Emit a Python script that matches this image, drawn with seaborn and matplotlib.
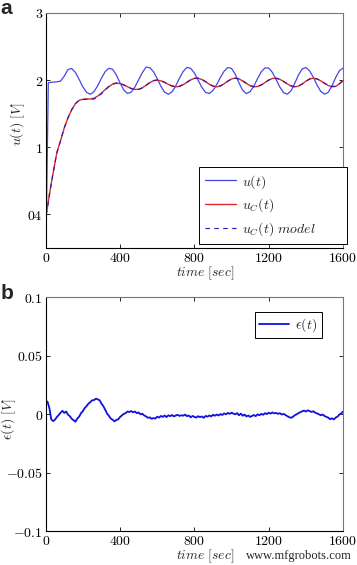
import matplotlib
matplotlib.use("Agg")
import matplotlib.pyplot as plt
import seaborn as sns

sns.set_theme(style="ticks", rc={
    "mathtext.fontset": "cm",
    "axes.linewidth": 0.8,
})
plt.rcParams["font.family"] = ["DejaVu Serif"]

# time samples [sec] for panel a
t_a = [0, 4, 14] + list(range(20, 1601, 20))

# u(t) [V]
u = [1.90, 0.00, 1.96, 1.965, 1.97, 1.975, 1.986, 2.06, 2.16, 2.173, 2.114, 2.011,
     1.899, 1.817, 1.790, 1.829, 1.918, 2.030, 2.127, 2.177, 2.161, 2.078, 1.960,
     1.854, 1.802, 1.821, 1.898, 2.006, 2.111, 2.195, 2.185, 2.126, 2.022, 1.907,
     1.820, 1.790, 1.826, 1.916, 2.030, 2.131, 2.190, 2.176, 2.107, 2.001, 1.893,
     1.818, 1.802, 1.845, 1.934, 2.041, 2.134, 2.188, 2.174, 2.087, 1.959, 1.847,
     1.800, 1.829, 1.913, 2.023, 2.125, 2.183, 2.180, 2.114, 2.007, 1.895, 1.814,
     1.791, 1.842, 1.952, 2.077, 2.167, 2.188, 2.139, 2.042, 1.927, 1.833, 1.791,
     1.819, 1.914, 2.038, 2.141, 2.180]

# u_C(t) [V] measured
uc = [0.00, 0.02, 0.19, 0.30, 0.62, 0.92, 1.10, 1.29, 1.44, 1.56, 1.65, 1.70,
      1.715, 1.72, 1.72, 1.731, 1.763, 1.808, 1.859, 1.906, 1.940, 1.955, 1.949,
      1.929, 1.902, 1.877, 1.862, 1.864, 1.886, 1.923, 1.962, 1.991, 2.000, 1.990,
      1.966, 1.937, 1.912, 1.900, 1.907, 1.933, 1.969, 2.004, 2.026, 2.028, 2.010,
      1.976, 1.939, 1.911, 1.900, 1.913, 1.946, 1.986, 2.018, 2.030, 2.018, 1.988,
      1.951, 1.918, 1.901, 1.905, 1.929, 1.965, 2.001, 2.025, 2.029, 2.012, 1.980,
      1.943, 1.913, 1.900, 1.911, 1.943, 1.985, 2.018, 2.030, 2.018, 1.990, 1.953,
      1.920, 1.902, 1.906, 1.945, 1.995]

# u_C(t) model, overlaps the measurement at this scale
uc_model = [0.00, 0.02, 0.18, 0.29, 0.62, 0.92, 1.10, 1.29, 1.44, 1.56, 1.65, 1.70,
            1.713, 1.716, 1.71, 1.72, 1.75, 1.797, 1.853, 1.904, 1.942, 1.960, 1.953,
            1.929, 1.901, 1.875, 1.860, 1.862, 1.885, 1.924, 1.965, 1.994, 2.003, 1.992,
            1.968, 1.939, 1.914, 1.901, 1.908, 1.934, 1.970, 2.005, 2.028, 2.030, 2.012,
            1.978, 1.941, 1.912, 1.901, 1.913, 1.946, 1.986, 2.017, 2.029, 2.019, 1.989,
            1.953, 1.920, 1.902, 1.905, 1.928, 1.964, 2.000, 2.024, 2.028, 2.012, 1.981,
            1.945, 1.916, 1.902, 1.911, 1.942, 1.983, 2.016, 2.028, 2.018, 1.991, 1.955,
            1.923, 1.906, 1.910, 1.946, 1.993]

# time samples [sec] for panel b
t_b = list(range(0, 1601, 10))

# epsilon(t) [V]
eps = [0.0115, 0.0105, 0.0050, -0.0045, -0.0060, -0.0048, -0.0025, -0.0008, 0.0012, 0.0028,
       0.0010, 0.0022, -0.0005, -0.0018, -0.0040, -0.0052, -0.0065, -0.0038, -0.0022, 0.0008,
       0.0025, 0.0052, 0.0068, 0.0090, 0.0102, 0.0118, 0.0120, 0.0132, 0.0126, 0.0118,
       0.0090, 0.0068, 0.0038, 0.0005, -0.0015, -0.0038, -0.0048, -0.0062, -0.0050, -0.0045,
       -0.0025, -0.0012, 0.0002, 0.0008, 0.0022, 0.0018, 0.0026, 0.0015, 0.0022, 0.0008,
       0.0014, -0.0002, 0.0003, -0.0012, -0.0020, -0.0032, -0.0028, -0.0040, -0.0034, -0.0038,
       -0.0022, -0.0030, -0.0016, -0.0024, -0.0012, -0.0026, -0.0010, -0.0018, -0.0008, -0.0020,
       -0.0012, -0.0006, -0.0016, -0.0010, -0.0014, -0.0004, -0.0018, -0.0012, -0.0028, -0.0016,
       -0.0024, -0.0030, -0.0018, -0.0026, -0.0020, -0.0032, -0.0016, -0.0022, -0.0012, -0.0020,
       -0.0006, -0.0014, -0.0004, -0.0012, 0.0000, -0.0008, 0.0006, -0.0002, 0.0010, 0.0002,
       0.0012, 0.0004, -0.0002, 0.0008, -0.0010, 0.0004, -0.0014, -0.0004, -0.0020, -0.0012,
       -0.0024, -0.0016, -0.0008, -0.0018, -0.0002, -0.0010, 0.0002, -0.0006, 0.0008, 0.0000,
       0.0012, 0.0004, 0.0014, 0.0006, 0.0010, 0.0002, 0.0008, -0.0004, 0.0002, -0.0008,
       -0.0018, -0.0026, -0.0032, -0.0024, -0.0010, -0.0002, 0.0008, 0.0016, 0.0024, 0.0030,
       0.0022, 0.0032, 0.0026, 0.0018, 0.0024, 0.0012, 0.0006, -0.0002, -0.0010, -0.0004,
       -0.0016, -0.0024, -0.0030, -0.0044, -0.0036, -0.0046, -0.0030, -0.0022, -0.0004, 0.0006,
       0.0022]

x_ticks = [0, 400, 800, 1200, 1600]
x_ticklabels = ["$0$", "$400$", "$800$", "$1200$", "$1600$"]
a_yticks = [0, 1, 2, 3]
a_yticklabels = ["$04$", "$1$", "$2$", "$3$"]
b_yticks = [-0.1, -0.05, 0, 0.05, 0.1]
b_yticklabels = ["$-0.1$", "$-0.05$", "$0$", "$0.05$", "$0.1$"]

fig = plt.figure(figsize=(3.57, 5.65), dpi=100)
ax1 = fig.add_axes([0.128, 0.561, 0.833, 0.416])
ax2 = fig.add_axes([0.128, 0.0601, 0.833, 0.414])

sns.lineplot(x=t_a, y=u, ax=ax1, color="#4646e6", lw=0.9, estimator=None, label=r"$u(t)$")
sns.lineplot(x=t_a, y=uc, ax=ax1, color="#e02828", lw=1.0, estimator=None, label=r"$u_C(t)$")
sns.lineplot(x=t_a, y=uc_model, ax=ax1, color="#1a1ab4", lw=0.8, linestyle=(0, (4, 4)),
             estimator=None, label=r"$u_C(t)\ model$")
sns.lineplot(x=t_b, y=eps, ax=ax2, color="#1010e0", lw=1.3, estimator=None, label=r"$\epsilon(t)$")

for ax in (ax1, ax2):
    ax.set_xlim(0, 1600)
    ax.set_xticks(x_ticks)
    ax.set_xticklabels(x_ticklabels)
    ax.tick_params(direction="in", length=3, width=0.6, top=True, right=True,
                   labelsize=10, pad=2, colors="black")
    ax.spines["top"].set_color("#777777")
    ax.spines["right"].set_color("#777777")
    ax.spines["left"].set_color("black")
    ax.spines["bottom"].set_color("black")
    ax.set_xlabel(r"$time\ [sec]$", fontsize=9.8)
    ax.xaxis.set_label_coords(0.536, -0.07)

ax1.set_ylim(-0.5, 3)
ax1.set_yticks(a_yticks)
ax1.set_yticklabels(a_yticklabels)
ax1.set_ylabel(r"$u(t)\ [V]$", fontsize=10)
ax1.yaxis.set_label_coords(-0.063, 0.53)

ax2.set_ylim(-0.1, 0.1)
ax2.set_yticks(b_yticks)
ax2.set_yticklabels(b_yticklabels)
ax2.set_ylabel(r"$\epsilon(t)\ [V]$", fontsize=10)
ax2.yaxis.set_label_coords(-0.094, 0.48)

ax1.legend(loc="lower left", bbox_to_anchor=(0.516, 0.017, 0.496, 0.33), mode="expand",
           frameon=True, fancybox=False, edgecolor="black", framealpha=1, fontsize=10,
           handlelength=2.2, handletextpad=0.45, labelspacing=0.42, borderpad=0.45,
           borderaxespad=0)
ax2.legend(loc="upper right", bbox_to_anchor=(0.928, 0.935), frameon=True, fancybox=False,
           edgecolor="black", framealpha=1, fontsize=10, handlelength=2.2,
           handletextpad=0.45, borderpad=0.3, borderaxespad=0)
for leg in (ax1.get_legend(), ax2.get_legend()):
    leg.get_frame().set_linewidth(0.7)

fig.text(0.002, 0.975, "a", fontsize=15, fontweight="bold", family="Liberation Sans",
         va="baseline", ha="left")
fig.text(0.002, 0.471, "b", fontsize=15, fontweight="bold", family="Liberation Sans",
         va="baseline", ha="left")
fig.text(0.69, 0.010, "www.mfgrobots.com", fontsize=9, family="Liberation Serif",
         va="baseline", ha="left")

fig.savefig("out.png", dpi=100)
